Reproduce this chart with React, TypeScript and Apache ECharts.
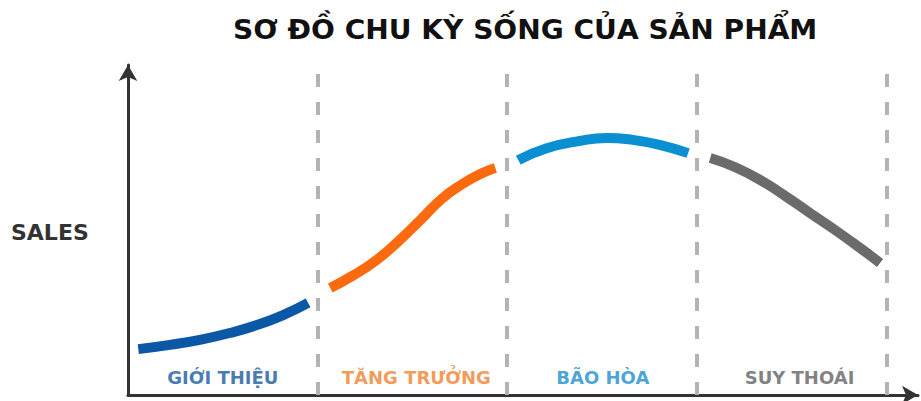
import React, { useEffect, useRef } from "react";
import * as echarts from "echarts";

// ---- data ----
const titleText = "SƠ ĐỒ CHU KỲ SỐNG CỦA SẢN PHẨM";
const yAxisName = "SALES";
const stageNames = ["GIỚI THIỆU", "TĂNG TRƯỞNG", "BÃO HÒA", "SUY THOÁI"];
const stageBoundaries = [24, 48, 72, 96];
const stageLabelX = [12, 36.5, 60.1, 85];
const stageLabelY = 5.2;

const introData = [
  [1.3, 13.9],
  [5.3, 15.2],
  [9.1, 16.7],
  [12.9, 18.8],
  [16.7, 21.5],
  [19.9, 24.5],
  [22.8, 27.9],
];
const growthData = [
  [25.6, 32.4],
  [28.4, 36.1],
  [31.3, 40.6],
  [34.2, 46.5],
  [37.0, 53.0],
  [39.7, 59.4],
  [42.3, 63.9],
  [44.6, 67.0],
  [46.5, 68.8],
];
const maturityData = [
  [49.4, 71.2],
  [53.0, 74.8],
  [57.2, 77.0],
  [60.6, 77.9],
  [63.9, 77.3],
  [67.3, 75.8],
  [70.9, 73.3],
];
const declineData = [
  [73.7, 71.8],
  [76.8, 69.1],
  [80.0, 65.2],
  [83.2, 60.3],
  [86.3, 55.2],
  [89.5, 50.0],
  [92.7, 44.5],
  [95.2, 40.0],
];

// ---- styles ----
const curveColors = ["#0b58a6", "#fb6a0e", "#0a8fd2", "#6b6b6b"];
const labelColors = ["#16599e", "#f07f2c", "#1a8ccc", "#5f5f5f"];

export default function App() {
  const ref = useRef<HTMLDivElement>(null);
  useEffect(() => {
    document.body.style.margin = "0";
    const chart = echarts.init(ref.current!, undefined, { renderer: "svg" });
    const curves = [introData, growthData, maturityData, declineData];
    const option: any = {
      animation: false,
      backgroundColor: "#ffffff",
      graphic: [
        {
          type: "text",
          x: 233,
          y: 30,
          scaleX: 1.08,
          style: {
            text: titleText,
            font: "bold 26px 'DejaVu Sans'",
            fill: "#111111",
            textVerticalAlign: "middle",
            verticalAlign: "middle",
          },
        },
        {
          type: "text",
          x: 11,
          y: 232,
          style: {
            text: yAxisName,
            font: "bold 22px 'DejaVu Sans'",
            fill: "#333333",
            verticalAlign: "middle",
            textVerticalAlign: "middle",
          },
        },
      ],
      grid: { left: 128, right: 3, top: 65, bottom: 6 },
      xAxis: {
        type: "value",
        min: 0,
        max: 100,
        axisLine: {
          show: true,
          symbol: ["none", "arrow"],
          symbolSize: [14, 16],
          lineStyle: { color: "#333333", width: 3 },
        },
        axisTick: { show: false },
        axisLabel: { show: false },
        splitLine: { show: false },
      },
      yAxis: {
        type: "value",
        min: 0,
        max: 100,
        axisLine: {
          show: true,
          symbol: ["none", "arrow"],
          symbolSize: [14, 16],
          lineStyle: { color: "#333333", width: 3 },
        },
        axisTick: { show: false },
        axisLabel: { show: false },
        splitLine: { show: false },
      },
      series: [
        {
          type: "line",
          data: [],
          silent: true,
          markLine: {
            silent: true,
            symbol: "none",
            label: { show: false },
            lineStyle: { color: "#b3b3b3", width: 4, type: [13, 15] },
            data: stageBoundaries.map((x) => ({ xAxis: x })),
          },
        },
        ...curves.map((d, i) => ({
          type: "line",
          data: d,
          smooth: 0.5,
          showSymbol: false,
          symbol: "none",
          lineStyle: { color: curveColors[i], width: 10, cap: "butt" },
          z: 3,
        })),
        {
          type: "scatter",
          symbolSize: 0,
          z: 4,
          data: stageNames.map((n, i) => ({
            value: [stageLabelX[i], stageLabelY],
            name: n,
            label: {
              show: true,
              position: "inside",
              formatter: n,
              color: labelColors[i],
              fontFamily: "DejaVu Sans",
              fontWeight: "bold",
              fontSize: 18,
            },
          })),
        },
      ],
    };
    chart.setOption(option);
    return () => chart.dispose();
  }, []);
  return <div ref={ref} style={{ width: 921, height: 401 }} />;
}
